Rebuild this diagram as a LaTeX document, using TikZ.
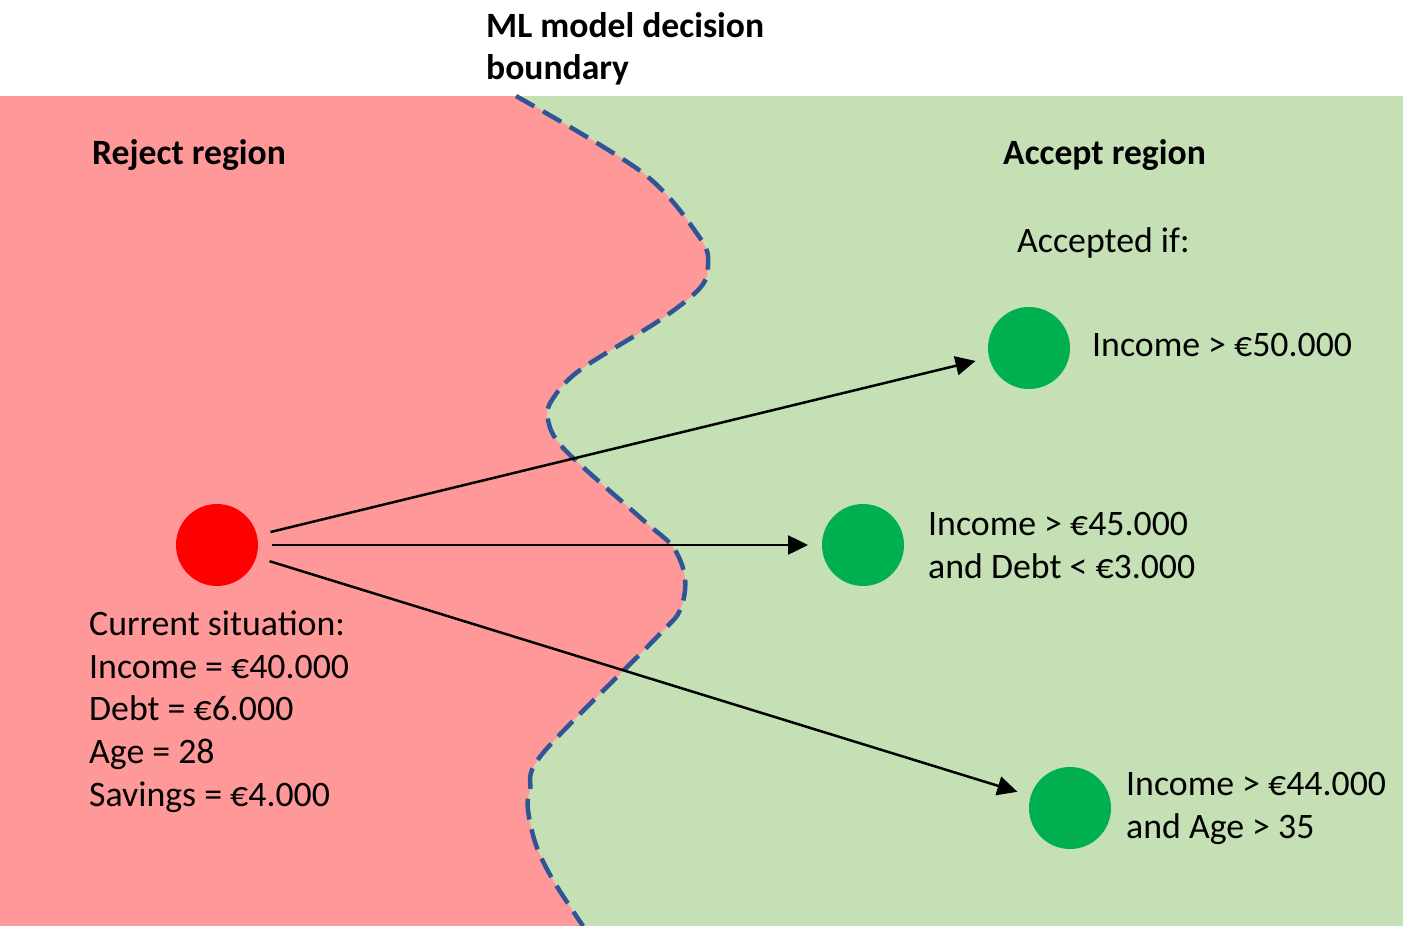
\documentclass[tikz,border=0pt]{standalone}
\usepackage{fontspec}
\setmainfont{Carlito}
\usetikzlibrary{arrows.meta}
\definecolor{rejectred}{HTML}{FF9999}
\definecolor{acceptgreen}{HTML}{C5E0B4}
\definecolor{boundblue}{HTML}{2F5597}
\definecolor{dotgreen}{HTML}{00B050}
\definecolor{dotred}{HTML}{FF0000}
\begin{document}
\begin{tikzpicture}[x=1pt,y=-1pt,
  txt/.style={anchor=base west, inner sep=0pt, font=\fontsize{35.8}{43}\selectfont},
  boldtxt/.style={anchor=base west, inner sep=0pt, font=\fontsize{35.6}{43}\selectfont\bfseries},
  dot/.style={circle, minimum size=82pt, inner sep=0pt, outer sep=0pt},
  arr/.style={-{Triangle[length=20pt,width=19pt]}, line width=2.5pt, shorten <=14pt, shorten >=14pt}]
\useasboundingbox (0,0) rectangle (1403,926);
\fill[acceptgreen] (0,96) rectangle (1403,926);
\fill[rejectred] (0,926) -- (0,96) -- plot[smooth, tension=0.55] coordinates {(516,96) (643,173) (700,238) (708,265) (700,288) (660,320) (580,370) (552,400) (548,420) (565,450) (643,520) (673,547) (685,578) (680,610) (657,637) (543,753) (530,790) (528,810) (536,845) (553,880) (583,926)} -- cycle;
\draw[boundblue, line width=4.5pt, dash pattern=on 21pt off 10pt] plot[smooth, tension=0.55] coordinates {(516,96) (643,173) (700,238) (708,265) (700,288) (660,320) (580,370) (552,400) (548,420) (565,450) (643,520) (673,547) (685,578) (680,610) (657,637) (543,753) (530,790) (528,810) (536,845) (553,880) (583,926)};
\node[boldtxt] (title1) at (486,37) {ML model decision};
\node[boldtxt] (title2) at (486,79) {boundary};
\node[boldtxt] (reject) at (92,164) {Reject region};
\node[boldtxt] (accept) at (1003,164) {Accept region};
\node[txt] (ifs) at (1017,252) {Accepted if:};
\node[dot, fill=dotred] (cur) at (217,545) {};
\node[dot, fill=dotgreen] (g1) at (1029,348) {};
\node[dot, fill=dotgreen] (g2) at (863,545) {};
\node[dot, fill=dotgreen] (g3) at (1070,808) {};
\node[txt] (c1) at (1092,356) {Income > €50.000};
\node[txt] (c2a) at (928,535) {Income > €45.000};
\node[txt] (c2b) at (928,578) {and Debt < €3.000};
\node[txt] (c3a) at (1126,795) {Income > €44.000};
\node[txt] (c3b) at (1126,838) {and Age > 35};
\node[txt] (s1) at (89,635) {Current situation:};
\node[txt] (s2) at (89,678) {Income = €40.000};
\node[txt] (s3) at (89,720) {Debt = €6.000};
\node[txt] (s4) at (89,763) {Age = 28};
\node[txt] (s5) at (89,806) {Savings = €4.000};
\draw[arr] (cur) -- (g1);
\draw[arr] (cur) -- (g2);
\draw[arr] (cur) -- (g3);
\end{tikzpicture}
\end{document}
